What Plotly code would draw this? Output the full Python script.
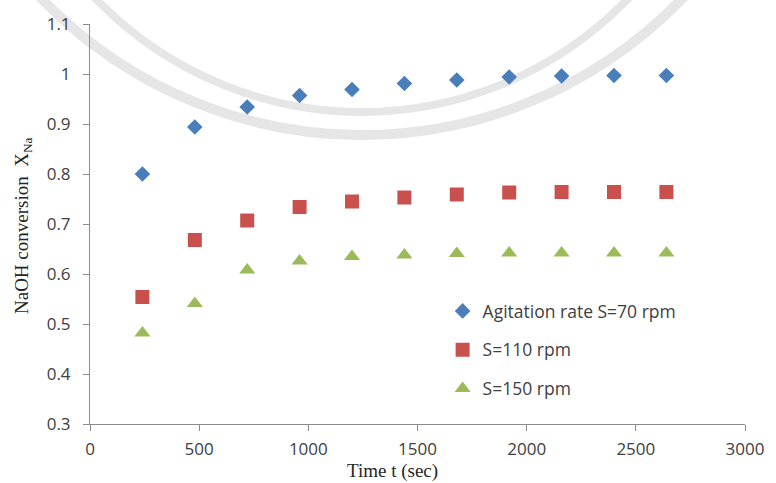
import plotly.graph_objects as go

# Sampling times (s) and NaOH conversion for three agitation rates
time_s = [240, 480, 720, 960, 1200, 1440, 1680, 1920, 2160, 2400, 2640]
conv_70 = [0.800, 0.894, 0.934, 0.957, 0.969, 0.981, 0.988, 0.994, 0.996, 0.997, 0.997]
conv_110 = [0.554, 0.668, 0.707, 0.734, 0.745, 0.753, 0.759, 0.763, 0.764, 0.764, 0.764]
conv_150 = [0.482, 0.541, 0.608, 0.626, 0.635, 0.638, 0.641, 0.642, 0.642, 0.642, 0.642]

names = ["Agitation rate S=70 rpm", "S=110 rpm", "S=150 rpm"]
x_ticks = [0, 500, 1000, 1500, 2000, 2500, 3000]
y_ticks = [0.3, 0.4, 0.5, 0.6, 0.7, 0.8, 0.9, 1.0, 1.1]

W, H = 776, 483
ML, MR, MT, MB = 90, 21, 24, 59
PW, PH = W - ML - MR, H - MT - MB


def px(x):
    return (x - ML) / PW


def py(y):
    return (H - MB - y) / PH


fig = go.Figure()

styles = [
    dict(symbol="diamond", color="#4A7EBB", size=12),
    dict(symbol="square", color="#C9504D", size=14),
    dict(symbol="triangle-up", color="#9BBB59", size=14),
]
for i, (ys, st) in enumerate(zip([conv_70, conv_110, conv_150], styles)):
    fig.add_trace(go.Scatter(
        x=time_s, y=ys, mode="markers", name=names[i], legendgroup=str(i),
        marker=dict(symbol=st["symbol"], color=st["color"], size=st["size"],
                    line=dict(width=0)),
    ))

# faint background seal rings (centre x, centre y, radius, stroke width), in pixels
for cx, cy, r, w in [(366, -321, 456, 10), (366, -267, 379, 8)]:
    fig.add_shape(type="circle", xref="paper", yref="paper", layer="below",
                  x0=px(cx - r), x1=px(cx + r), y0=py(cy + r), y1=py(cy - r),
                  line=dict(color="#E6E6E6", width=w))

axis_common = dict(
    showgrid=False, zeroline=False, showline=True, linecolor="#8C8C8C", linewidth=1,
    ticks="outside", ticklen=6, tickcolor="#8C8C8C", tickwidth=1,
    tickfont=dict(family="Open Sans", size=17, color="#404040"),
)
fig.update_xaxes(range=[0, 3000], tickvals=x_ticks, tickformat="d",
                 ticklabelstandoff=4, **axis_common)
fig.update_yaxes(range=[0.3, 1.1], tickvals=y_ticks, ticklabelstandoff=9, **axis_common)

fig.add_annotation(text="Time t (sec)", xref="paper", yref="paper",
                   x=px(397), y=py(471), showarrow=False, xanchor="center", yanchor="middle",
                   font=dict(family="Liberation Serif", size=19, color="#262626"))
fig.add_annotation(text="NaOH conversion&nbsp;&nbsp;X<sub>Na</sub>", xref="paper", yref="paper",
                   x=px(22), y=py(226), showarrow=False, textangle=-90,
                   xanchor="center", yanchor="middle",
                   font=dict(family="Liberation Serif", size=19, color="#262626"))

fig.update_layout(
    width=W, height=H, margin=dict(l=ML, r=MR, t=MT, b=MB),
    paper_bgcolor="white", plot_bgcolor="white",
    legend=dict(x=px(448), y=py(293), xanchor="left", yanchor="top",
                traceorder="grouped", tracegroupgap=13, bgcolor="rgba(0,0,0,0)",
                font=dict(family="Open Sans", size=17.5, color="#404040")),
)

fig.write_html("out.html")
